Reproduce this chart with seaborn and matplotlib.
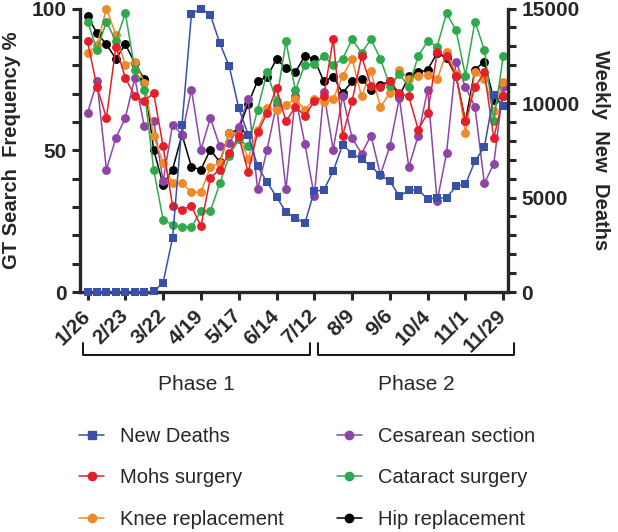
import matplotlib
matplotlib.use("Agg")
import matplotlib.pyplot as plt
import matplotlib.transforms as mtransforms
from matplotlib.lines import Line2D
from matplotlib.ticker import MultipleLocator
import numpy as np
import seaborn as sns

# weekly dates (2020), one point per week
weeks = ["1/26", "2/2", "2/9", "2/16", "2/23", "3/1", "3/8", "3/15", "3/22", "3/29",
         "4/5", "4/12", "4/19", "4/26", "5/3", "5/10", "5/17", "5/24", "5/31", "6/7",
         "6/14", "6/21", "6/28", "7/5", "7/12", "7/19", "7/26", "8/2", "8/9", "8/16",
         "8/23", "8/30", "9/6", "9/13", "9/20", "9/27", "10/4", "10/11", "10/18", "10/25",
         "11/1", "11/8", "11/15", "11/22", "11/29"]
tick_labels = ["1/26", "2/23", "3/22", "4/19", "5/17", "6/14",
               "7/12", "8/9", "9/6", "10/4", "11/1", "11/29"]

new_deaths = [0, 0, 0, 0, 0, 0, 0, 30, 500, 2870,
              8860, 14700, 15000, 14660, 13170, 11940, 9740, 8330, 6650, 5810,
              5040, 4230, 3930, 3630, 5340, 5390, 6390, 7800, 7320, 7040,
              6650, 6180, 5860, 5070, 5390, 5390, 4930, 4970, 4970, 5600,
              5690, 6920, 7680, 10440, 9860]
mohs = [88.4, 72.3, 61.4, 86.6, 75.5, 69.2, 67.3, 70.2, 51.4, 30.3,
        29.1, 30.3, 23.2, 40.3, 43.2, 49.1, 54.9, 42.3, 56.3, 63.1,
        71.9, 60.2, 65.3, 62.2, 67.3, 69.0, 89.2, 55.2, 67.3, 83.1,
        72.8, 72.3, 74.3, 70.2, 69.0, 57.3, 63.1, 84.5, 83.1, 76.3,
        60.2, 72.3, 77.5, 54.3, 69.0]
knee = [84.3, 87.0, 100.0, 90.7, 80.2, 81.3, 73.9, 54.9, 45.5, 38.3,
        38.3, 35.2, 35.2, 44.1, 45.5, 56.1, 55.5, 47.0, 57.3, 64.9,
        64.3, 66.1, 68.1, 64.3, 68.1, 67.0, 68.1, 76.1, 82.2, 69.0,
        77.8, 65.3, 70.2, 78.2, 75.1, 76.3, 76.5, 75.0, 84.5, 77.0,
        56.0, 77.5, 75.0, 64.0, 74.0]
cesarean = [63.1, 74.3, 43.2, 54.3, 61.4, 75.5, 58.5, 60.2, 39.1, 59.0,
            55.5, 71.4, 50.2, 61.4, 51.4, 52.6, 58.2, 68.1, 36.2, 50.2,
            66.1, 36.2, 69.0, 52.3, 33.8, 70.4, 50.2, 69.2, 54.3, 48.8,
            55.2, 41.4, 51.4, 68.4, 44.1, 55.2, 71.4, 32.0, 49.1, 81.3,
            72.3, 65.3, 38.3, 45.3, 72.3]
cataract = [95.4, 85.4, 95.4, 88.4, 98.4, 78.4, 71.4, 43.2, 25.4, 23.8,
            23.0, 23.0, 28.5, 28.5, 38.3, 48.1, 53.8, 51.4, 64.3, 77.5,
            67.3, 88.4, 71.1, 80.2, 80.5, 83.1, 80.2, 82.2, 89.2, 84.3,
            89.2, 82.2, 72.8, 77.0, 72.3, 83.3, 88.4, 86.6, 98.4, 92.3,
            76.3, 95.4, 85.4, 60.2, 83.3]
hip = [97.4, 91.3, 87.4, 82.2, 87.4, 80.8, 75.1, 50.2, 37.9, 43.2,
       55.5, 44.1, 43.2, 50.2, 45.8, 56.1, 57.3, 66.4, 74.5, 75.8,
       82.2, 79.0, 77.5, 83.3, 82.2, 74.3, 76.0, 70.2, 74.3, 75.2,
       71.4, 73.1, 74.3, 69.0, 76.1, 77.5, 78.4, 84.3, 82.5, 76.1,
       60.2, 78.4, 81.3, 67.8, 69.0]

phases = ["Phase 1", "Phase 2"]

BLUE = "#3850a8"
RED = "#e3202a"
ORANGE = "#ef8a2b"
PURPLE = "#8d45a6"
GREEN = "#2eaa4c"
BLACK = "#000000"

sns.set_style("ticks")
plt.rcParams["font.family"] = ["Liberation Sans", "DejaVu Sans"]

fig = plt.figure(figsize=(6.18, 5.32), dpi=100)
ax = fig.add_axes([0.1294, 0.4511, 0.6926, 0.5329])
ax2 = ax.twinx()

x = np.arange(len(weeks))
line_kw = dict(linewidth=1.1, markersize=6.4, markeredgewidth=0, clip_on=False, legend=False)

for vals, col in [(hip, BLACK), (cesarean, PURPLE), (knee, ORANGE), (cataract, GREEN), (mohs, RED)]:
    sns.lineplot(x=x, y=vals, ax=ax, color=col, marker="o", **line_kw)
sns.lineplot(x=x, y=new_deaths, ax=ax2, color=BLUE, marker="s", **line_kw)

ax.set_xlim(-0.8, 44.5)
ax.set_ylim(0, 100)
ax2.set_ylim(0, 15000)

ax.set_xticks(x[::4])
ax.set_xticklabels(tick_labels, rotation=45, ha="right", va="center",
                   rotation_mode="anchor", fontweight="bold", fontsize=15)
ax.set_yticks([0, 50, 100])
ax.yaxis.set_minor_locator(MultipleLocator(10))
ax2.set_yticks([0, 5000, 10000, 15000])
ax2.yaxis.set_minor_locator(MultipleLocator(1000))

for a in (ax, ax2):
    a.spines["top"].set_visible(False)
    a.tick_params(axis="both", which="both", width=2.2, length=6, labelsize=15)
    for lab in a.get_yticklabels():
        lab.set_fontweight("bold")
for s in ("left", "bottom"):
    ax.spines[s].set_linewidth(2.4)
ax.spines["right"].set_visible(False)
ax2.spines["right"].set_linewidth(2.4)
ax2.spines["left"].set_visible(False)
ax2.spines["bottom"].set_visible(False)
ax.tick_params(axis="x", pad=9)

ax.set_ylabel("GT Search  Frequency %", fontweight="bold", fontsize=14.5, labelpad=8)
ax2.set_ylabel("Weekly  New  Deaths", fontweight="bold", fontsize=14.5,
               rotation=270, labelpad=22)

# phase brackets under the x axis
trans = mtransforms.blended_transform_factory(ax.transData, ax.transAxes)
for (x0, x1), name in zip([(-0.5, 23.5), (24.4, 45.1)], phases):
    ax.add_line(Line2D([x0, x0, x1, x1], [-0.18, -0.222, -0.222, -0.18],
                       transform=trans, color="black", linewidth=1.3, clip_on=False))
    ax.text((x0 + x1) / 2, -0.325, name, transform=trans, ha="center", va="center",
            fontsize=15)

handles = [
    Line2D([], [], color=BLUE, marker="s", markersize=6, linewidth=1.1),
    Line2D([], [], color=RED, marker="o", markersize=6, linewidth=1.1),
    Line2D([], [], color=ORANGE, marker="o", markersize=6, linewidth=1.1),
    Line2D([], [], color=PURPLE, marker="o", markersize=6, linewidth=1.1),
    Line2D([], [], color=GREEN, marker="o", markersize=6, linewidth=1.1),
    Line2D([], [], color=BLACK, marker="o", markersize=6, linewidth=1.1),
]
labels = ["New Deaths", "Mohs surgery", "Knee replacement",
          "Cesarean section", "Cataract surgery", "Hip replacement"]
fig.legend(handles, labels, ncol=2, loc="upper left", bbox_to_anchor=(0.115, 0.212),
           frameon=False, fontsize=14.5, handlelength=1.25, handletextpad=0.8,
           labelspacing=1.1, columnspacing=2.6, borderaxespad=0)

fig.savefig("out.png", dpi=100)
